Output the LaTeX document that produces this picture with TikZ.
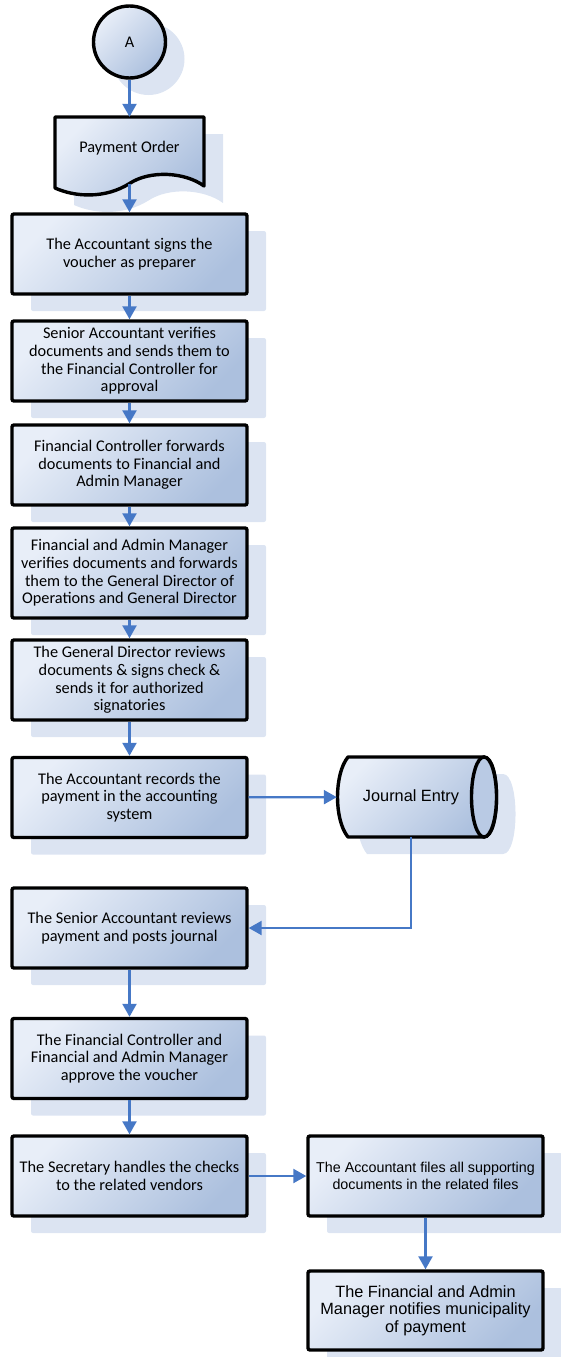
\documentclass[tikz,border=0pt]{standalone}
\usepackage{fontspec}
\usetikzlibrary{arrows.meta,shadows}
\newfontfamily\calibri{Carlito}
\newfontfamily\arialfont{Liberation Sans}
\definecolor{boxlight}{RGB}{232,238,248}
\definecolor{boxdark}{RGB}{172,192,222}
\definecolor{shadowc}{RGB}{220,228,242}
\definecolor{flowblue}{RGB}{70,120,198}
\definecolor{capfill}{RGB}{185,202,228}

\tikzset{
  boxshade/.style={top color=boxlight, bottom color=boxdark, shading angle=45},
  softshadow/.style={drop shadow={shadow xshift=19pt, shadow yshift=-17pt, fill=shadowc, opacity=1}},
  procbox/.style={draw=black, line width=3.4pt, rounded corners=2pt, boxshade, softshadow,
    minimum width=235pt, minimum height=80pt, align=center, inner sep=2pt,
    font=\calibri\fontsize{16.3}{17.6}\selectfont},
  flow/.style={draw=flowblue, line width=2.3pt, -{Triangle[length=13pt,width=14pt]}},
}

% document shape (payment order) and data store (journal entry) outlines
\def\docpath{(55,117) -- (204,117) -- (204,186) .. controls (185,172) and (150,170) .. (129.5,183.5) .. controls (105,199) and (75,197) .. (55,188) -- cycle}
\def\cylpath{(348,757) -- (484,757) .. controls (500.7,757) and (500.7,837) .. (484,837) -- (348,837) .. controls (334,820) and (334,774) .. (348,757) -- cycle}

\begin{document}
\begin{tikzpicture}[x=1pt,y=-1pt]
\useasboundingbox (0,0) rectangle (561,1357);

% start connector
\node[circle, draw=black, line width=3.4pt, boxshade, softshadow, minimum size=72pt, inner sep=0pt,
      font=\calibri\fontsize{16.3}{17.6}\selectfont] (A) at (129.5,42) {A};

% payment order document
\fill[shadowc, shift={(19,17)}] \docpath;
\shade[boxshade] \docpath;
\draw[line width=3.4pt, line join=round] \docpath;
\node[minimum width=149pt, minimum height=62pt, inner sep=0pt,
      font=\calibri\fontsize{16.3}{17.6}\selectfont] (po) at (129.5,148) {Payment Order};
\coordinate (pw) at (129.5,183.5);

% process steps
\node[procbox] (b2) at (129.5,254) {The Accountant signs the\\voucher as preparer};
\node[procbox] (b3) at (129.5,361) {Senior Accountant verifies\\documents and sends them to\\the Financial Controller for\\approval};
\node[procbox] (b4) at (129.5,465) {Financial Controller forwards\\documents to Financial and\\Admin Manager};
\node[procbox, minimum height=90pt] (b5) at (129.5,573) {Financial and Admin Manager\\verifies documents and forwards\\them to the General Director of\\Operations and General Director};
\node[procbox] (b6) at (129.5,680) {The General Director reviews\\documents \& signs check \&\\sends it for authorized\\signatories};
\node[procbox] (b7) at (129.5,797.5) {The Accountant records the\\payment in the accounting\\system};
\node[procbox] (b9) at (129.5,928) {The Senior Accountant reviews\\payment and posts journal};
\node[procbox] (b10) at (129.5,1058.5) {The Financial Controller and\\Financial and Admin Manager\\approve the voucher};
\node[procbox] (b11) at (129.5,1176) {The Secretary handles the checks\\to the related vendors};
\node[procbox, font=\arialfont\fontsize{14.3}{16.7}\selectfont] (b12) at (425.5,1176) {The Accountant files all supporting\\documents in the related files};
\node[procbox, minimum height=79pt, font=\arialfont\fontsize{16.3}{17.3}\selectfont] (b13) at (425.5,1310.5) {The Financial and Admin\\Manager notifies municipality\\of payment};

% journal entry data store
\fill[shadowc, shift={(19,17)}] \cylpath;
\shade[boxshade] \cylpath;
\draw[line width=3.4pt, line join=round] \cylpath;
\filldraw[fill=capfill, line width=3.4pt] (484,797) ellipse [x radius=12.5, y radius=40];
\node[minimum width=148pt, minimum height=80pt, inner sep=0pt,
      font=\arialfont\fontsize{16.3}{17.6}\selectfont] (je) at (411,797) {Journal Entry};

% connectors
\draw[flow] (A) -- (po);
\draw[flow] (pw) -- (b2);
\draw[flow] (b2) -- (b3);
\draw[flow] (b3) -- (b4);
\draw[flow] (b4) -- (b5);
\draw[flow] (b5) -- (b6);
\draw[flow] (b6) -- (b7);
\draw[flow] (b7) -- (je);
\draw[flow] (je.south) |- (b9);
\draw[flow] (b9) -- (b10);
\draw[flow] (b10) -- (b11);
\draw[flow] (b11) -- (b12);
\draw[flow] (b12) -- (b13);
\end{tikzpicture}
\end{document}
